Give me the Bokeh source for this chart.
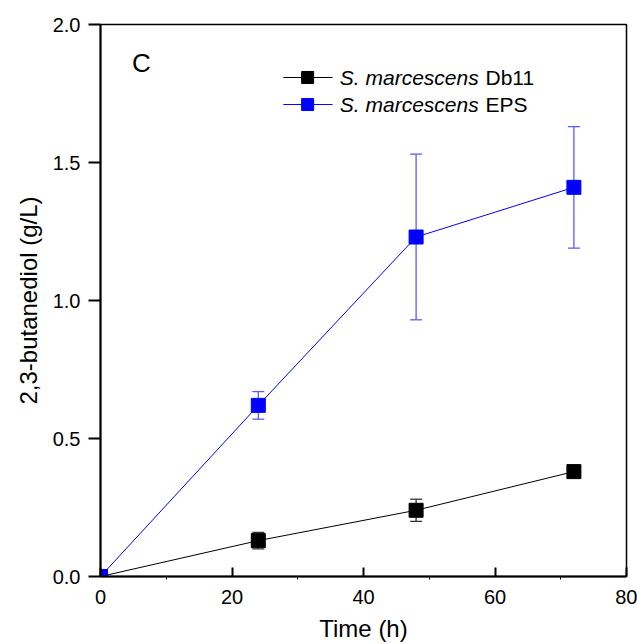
from bokeh.plotting import figure
from bokeh.models import (ColumnDataSource, Whisker, TeeHead, FixedTicker, Range1d,
                          Label, PrintfTickFormatter)
from bokeh.embed import file_html
from bokeh.resources import INLINE

# ---- data ----
time_h = [0, 24, 48, 72]
db11 = [0.0, 0.13, 0.24, 0.38]
db11_err = [0.0, 0.03, 0.04, 0.022]
eps = [0.0, 0.62, 1.23, 1.41]
eps_err = [0.0, 0.05, 0.30, 0.22]
x_ticks = [0, 20, 40, 60, 80]
y_ticks = [0.0, 0.5, 1.0, 1.5, 2.0]
series_names = ["Db11", "EPS"]

FONT = "Liberation Sans"

p = figure(width=637, height=644, output_backend="svg", toolbar_location=None,
           x_range=Range1d(0, 80), y_range=Range1d(0, 2.0),
           min_border_left=100, min_border_right=11, min_border_top=24, min_border_bottom=68)
p.xgrid.visible = False
p.ygrid.visible = False
p.outline_line_color = "black"
p.outline_line_width = 1.5
p.background_fill_color = "white"
p.border_fill_color = "white"

def src(y, e):
    return ColumnDataSource(dict(x=time_h, y=y,
                                 lo=[a - b for a, b in zip(y, e)],
                                 hi=[a + b for a, b in zip(y, e)]))

s_black = src(db11, db11_err)
s_blue = src(eps, eps_err)

for s, col, ecol in [(s_black, "black", "#333333"), (s_blue, "#0000ff", "#5a5aff")]:
    w = Whisker(source=s, base="x", upper="hi", lower="lo", line_color=ecol, line_width=1.3,
                upper_head=TeeHead(size=12, line_color=ecol, line_width=1.3),
                lower_head=TeeHead(size=12, line_color=ecol, line_width=1.3))
    p.add_layout(w)
    p.line("x", "y", source=s, line_color=col, line_width=1)
    p.scatter("x", "y", source=s, marker="square", size=14, fill_color=col, line_color=col)

# axes
p.xaxis.ticker = FixedTicker(ticks=x_ticks, minor_ticks=[10, 30, 50, 70])
p.yaxis.ticker = FixedTicker(ticks=y_ticks, minor_ticks=[])
p.yaxis.formatter = PrintfTickFormatter(format="%.1f")
for ax in (p.xaxis[0], p.yaxis[0]):
    ax.axis_line_width = 2
    ax.axis_line_color = "black"
    ax.major_tick_line_color = "black"
    ax.major_tick_line_width = 2
    ax.major_label_text_font = FONT
    ax.major_label_text_font_size = "20px"
    ax.major_label_text_color = "black"
    ax.axis_label_text_font = FONT
    ax.axis_label_text_font_size = "24px"
    ax.axis_label_text_font_style = "normal"
    ax.axis_label_text_color = "black"

p.xaxis.major_tick_in = 9
p.xaxis.major_tick_out = 0
p.xaxis.minor_tick_in = 0
p.xaxis.minor_tick_out = 3
p.xaxis.minor_tick_line_color = "black"
p.xaxis.major_label_standoff = 10
p.xaxis.axis_label = "Time (h)"
p.xaxis.axis_label_standoff = 8

p.yaxis.major_tick_in = 0
p.yaxis.major_tick_out = 12
p.yaxis.minor_tick_out = 0
p.yaxis.minor_tick_in = 0
p.yaxis.major_label_standoff = 8
p.yaxis.axis_label = "2,3-butanediol (g/L)"
p.yaxis.axis_label_standoff = 8

# panel letter
p.add_layout(Label(x=4.8, y=1.862, text="C", text_font=FONT, text_font_size="26px",
                   text_baseline="middle", text_color="black"))

# legend (manual, to allow mixed italic / upright text)
leg_y = [1.808, 1.710]
leg_cols = ["black", "#0000ff"]
for name, ly, col in zip(series_names, leg_y, leg_cols):
    p.line([27.8, 35.3], [ly, ly], line_color=col, line_width=1)
    p.scatter([31.5], [ly], marker="square", size=12, fill_color=col, line_color=col)
    p.add_layout(Label(x=36.4, y=ly, text="S. marcescens", text_font=FONT, text_font_size="21px",
                       text_font_style="italic", text_baseline="middle", text_color="black"))
    p.add_layout(Label(x=58.55, y=ly, text=name, text_font=FONT, text_font_size="21px",
                       text_baseline="middle", text_color="black"))

open("out.html", "w").write(file_html(p, INLINE))
